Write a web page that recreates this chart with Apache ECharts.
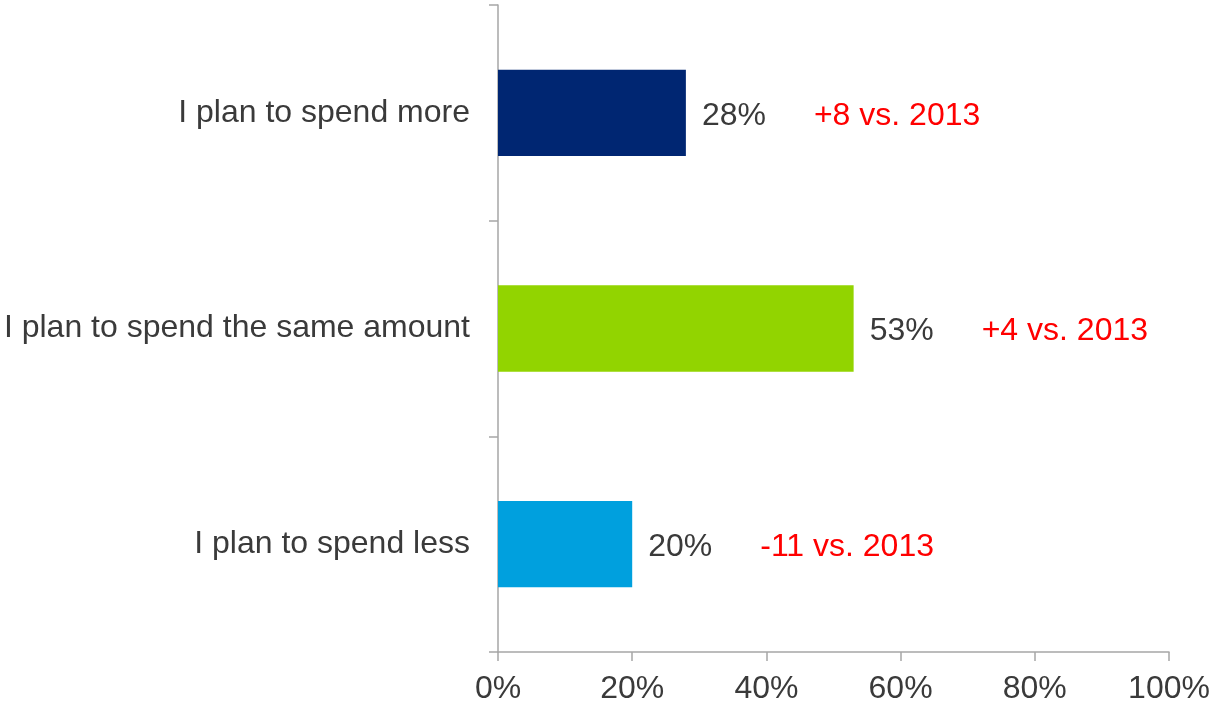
<!DOCTYPE html>
<html>
<head>
<meta charset="utf-8">
<script src="https://cdn.jsdelivr.net/npm/echarts@6/dist/echarts.min.js"></script>
<style>
  html, body { margin: 0; padding: 0; background: #fff; }
  #chart { width: 1211px; height: 707px; }
</style>
</head>
<body>
<div id="chart"></div>
<script>
// Spending intentions, share of respondents (%)
const categories = ['I plan to spend more', 'I plan to spend the same amount', 'I plan to spend less'];
const values = [28, 53, 20];
const changes = ['+8 vs. 2013', '+4 vs. 2013', '-11 vs. 2013'];
const barColors = ['#002672', '#92D400', '#00A0DE'];
const xTicks = [0, 20, 40, 60, 80, 100];

const FONT = '"Liberation Sans", Arial, sans-serif';
const AXIS_COLOR = '#a6a6a6';
const TEXT_COLOR = '#3a3a3a';
const FS = 32;

const chart = echarts.init(document.getElementById('chart'), null, { renderer: 'canvas' });

chart.setOption({
  animation: false,
  backgroundColor: '#ffffff',
  grid: {
    left: 498, right: 42, top: 5, bottom: 55,
    containLabel: false,
    outerBoundsMode: 'none'
  },
  xAxis: {
    type: 'value',
    min: xTicks[0],
    max: xTicks[xTicks.length - 1],
    interval: xTicks[1] - xTicks[0],
    axisLine: { show: true, lineStyle: { color: AXIS_COLOR, width: 1.5 } },
    axisTick: { show: true, length: 9, lineStyle: { color: AXIS_COLOR, width: 1.5 } },
    splitLine: { show: false },
    axisLabel: {
      formatter: v => v + '%',
      color: TEXT_COLOR,
      fontFamily: FONT,
      fontSize: FS,
      margin: 21
    }
  },
  yAxis: {
    type: 'category',
    data: categories,
    inverse: true,
    axisLine: { show: true, lineStyle: { color: AXIS_COLOR, width: 1.5 } },
    axisTick: { show: true, length: 9, lineStyle: { color: AXIS_COLOR, width: 1.5 } },
    axisLabel: {
      color: TEXT_COLOR,
      fontFamily: FONT,
      fontSize: FS,
      margin: 28,
      padding: [6, 0, 0, 0]
    }
  },
  series: [{
    type: 'bar',
    barWidth: '40%',
    data: values.map((v, i) => ({
      value: v,
      itemStyle: { color: barColors[i] }
    })),
    label: {
      show: true,
      position: 'right',
      distance: 16,
      formatter: p => '{v|' + p.value + '%}{d|' + changes[p.dataIndex] + '}',
      rich: {
        v: { color: TEXT_COLOR, fontFamily: FONT, fontSize: FS, padding: [6, 0, 0, 0] },
        d: { color: '#ff0000', fontFamily: FONT, fontSize: FS, padding: [6, 0, 0, 48] }
      }
    }
  }]
});
</script>
</body>
</html>
